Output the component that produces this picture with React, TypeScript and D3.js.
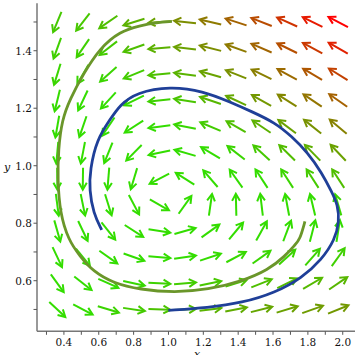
import React from "react";
import * as d3 from "d3";

// Arrow grid (data coordinates)
const GRID_X = [0.362, 0.509, 0.655, 0.802, 0.948, 1.095, 1.241, 1.388, 1.534, 1.681, 1.827, 1.974];
const GRID_Y = [0.5, 0.591, 0.682, 0.773, 0.864, 0.955, 1.045, 1.136, 1.227, 1.318, 1.409, 1.5];

// System coefficients: dx/dt = x(A - E*x - B*y), dy/dt = C*y*(x - D)
const COEF_A = 1.0;
const COEF_E = 0.1;
const COEF_B = 1.0;
const COEF_C = 0.3;
const COEF_D = 1.0;

// Solution curves
const BLUE_X = [0.999, 1.227, 1.422, 1.611, 1.766, 1.879, 1.955, 1.980, 1.972, 1.936, 1.879, 1.800, 1.707, 1.611, 1.479, 1.353, 1.198, 1.009, 0.818, 0.722, 0.664, 0.588, 0.550, 0.546, 0.569, 0.617];
const BLUE_Y = [0.497, 0.506, 0.523, 0.558, 0.610, 0.673, 0.743, 0.805, 0.864, 0.910, 0.976, 1.045, 1.102, 1.150, 1.188, 1.222, 1.260, 1.276, 1.255, 1.212, 1.160, 1.090, 0.986, 0.916, 0.835, 0.777];

const OLIVE_X = [1.020, 0.932, 0.836, 0.721, 0.607, 0.511, 0.435, 0.389, 0.368, 0.364, 0.378, 0.425, 0.492, 0.569, 0.683, 0.836, 1.037, 1.227, 1.420, 1.573, 1.668, 1.726, 1.754, 1.783];
const OLIVE_Y = [1.502, 1.498, 1.487, 1.467, 1.409, 1.319, 1.232, 1.160, 1.056, 0.951, 0.835, 0.743, 0.685, 0.632, 0.592, 0.569, 0.559, 0.569, 0.598, 0.638, 0.685, 0.725, 0.743, 0.806];

const X_MAJOR = [0.4, 0.6, 0.8, 1.0, 1.2, 1.4, 1.6, 1.8, 2.0];
const X_MINOR = [0.3, 0.5, 0.7, 0.9, 1.1, 1.3, 1.5, 1.7, 1.9];
const Y_MAJOR = [0.6, 0.8, 1.0, 1.2, 1.4];
const Y_MINOR = [0.5, 0.7, 0.9, 1.1, 1.3, 1.5];

export default function App() {
  const W = 355, H = 355;
  const xScale = d3.scaleLinear().domain([0.2456, 2.0761]).range([37, 356]);
  const yScale = d3.scaleLinear().domain([0.424, 1.565]).range([331.3, 3.3]);
  const axisX0 = 37, axisY0 = 331.3;

  const field = (x: number, y: number) => [
    x * (COEF_A - COEF_E * x - COEF_B * y),
    COEF_C * y * (x - COEF_D),
  ];

  const pts: { x: number; y: number; u: number; v: number; m: number }[] = [];
  GRID_Y.forEach((gy) =>
    GRID_X.forEach((gx) => {
      const [u, v] = field(gx, gy);
      pts.push({ x: gx, y: gy, u, v, m: Math.hypot(u, v) });
    })
  );
  const mMax = d3.max(pts, (p) => p.m) as number;
  const col = d3.interpolateRgb("#33dd00", "#ff0000");
  const m0 = 0.24;

  const sx = xScale(1) - xScale(0);
  const sy = yScale(0) - yScale(1);
  const L = 22, HL = 7, HW = 3.9;

  const arrows = pts.map((p, i) => {
    const cx = xScale(p.x), cy = yScale(p.y);
    let dx = p.u * sx, dy = -p.v * sy;
    const n = Math.hypot(dx, dy) || 1;
    dx /= n; dy /= n;
    const tx = cx - dx * L / 2, ty = cy - dy * L / 2;
    const hx = cx + dx * L / 2, hy = cy + dy * L / 2;
    const bx = hx - dx * HL, by = hy - dy * HL;
    const px = -dy, py = dx;
    const t = Math.max(0, Math.min(1, (p.m - m0) / (mMax - m0)));
    const c = col(t);
    return (
      <g key={i} stroke={c} strokeWidth={2} fill="none" strokeLinecap="butt" strokeLinejoin="miter">
        <line x1={tx} y1={ty} x2={hx - dx * 1} y2={hy - dy * 1} />
        <polyline points={`${bx + px * HW},${by + py * HW} ${hx},${hy} ${bx - px * HW},${by - py * HW}`} />
      </g>
    );
  });

  const line = d3
    .line<[number, number]>()
    .x((d) => xScale(d[0]))
    .y((d) => yScale(d[1]))
    .curve(d3.curveBasis);

  const bluePath = line(BLUE_X.map((x, i) => [x, BLUE_Y[i]]));
  const olivePath = line(OLIVE_X.map((x, i) => [x, OLIVE_Y[i]]));

  const font = "'DejaVu Serif', serif";

  return (
    <svg width={W} height={H} style={{ position: "absolute", left: 0, top: 0, background: "#fff" }}>
      <rect width={W} height={H} fill="#fff" />
      {arrows}
      <path d={olivePath || ""} fill="none" stroke="#6a962a" strokeWidth={2.8} />
      <path d={bluePath || ""} fill="none" stroke="#1f3f98" strokeWidth={2.8} />
      {/* axes */}
      <line x1={axisX0} y1={3.3} x2={axisX0} y2={axisY0} stroke="#777" strokeWidth={1.5} />
      <line x1={axisX0} y1={axisY0} x2={356} y2={axisY0} stroke="#777" strokeWidth={1.5} />
      {X_MAJOR.concat(X_MINOR).map((v, i) => (
        <line key={"xt" + i} x1={xScale(v)} x2={xScale(v)} y1={axisY0} y2={axisY0 + 3.5} stroke="#555" strokeWidth={1} />
      ))}
      {Y_MAJOR.concat(Y_MINOR).map((v, i) => (
        <line key={"yt" + i} x1={axisX0 - 3.5} x2={axisX0} y1={yScale(v)} y2={yScale(v)} stroke="#555" strokeWidth={1} />
      ))}
      {X_MAJOR.map((v, i) => (
        <text key={"xl" + i} x={xScale(v)} y={346} textAnchor="middle" fontFamily={font} fontSize={10.5} fill="#111">
          {v.toFixed(1)}
        </text>
      ))}
      {Y_MAJOR.map((v, i) => (
        <text key={"yl" + i} x={32} y={yScale(v) + 4} textAnchor="end" fontFamily={font} fontSize={10.5} fill="#111">
          {v.toFixed(1)}
        </text>
      ))}
      <text x={7} y={171} textAnchor="middle" fontFamily={font} fontStyle="italic" fontSize={11} fill="#111">y</text>
      <text x={197} y={358} textAnchor="middle" fontFamily={font} fontStyle="italic" fontSize={11} fill="#111">x</text>
    </svg>
  );
}
